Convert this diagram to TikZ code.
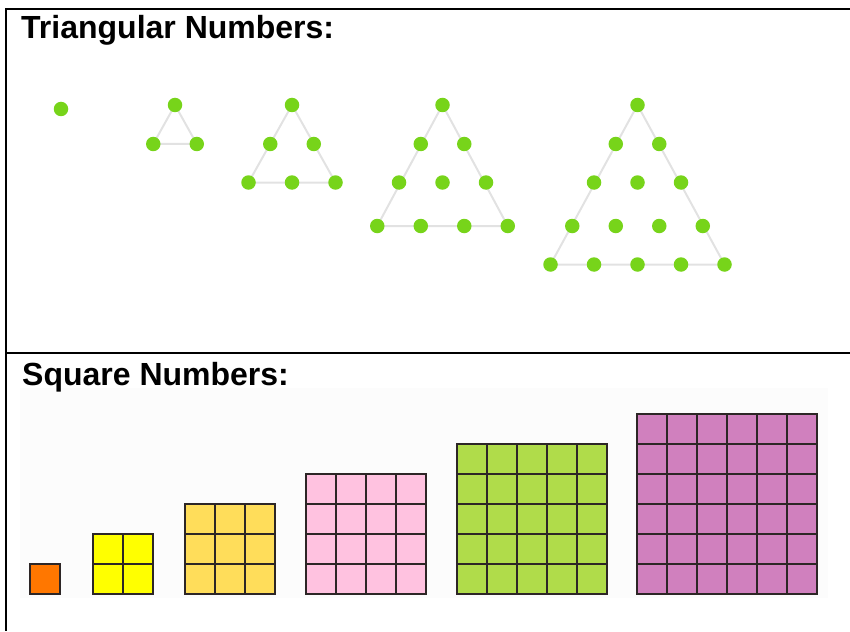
\documentclass[tikz,border=0pt]{standalone}
\usepackage{fontspec}
\setmainfont{Liberation Sans}
\usepackage{tikz}
\usetikzlibrary{backgrounds}
\definecolor{dotgreen}{RGB}{119,212,26}
\definecolor{edgegray}{RGB}{226,226,226}
\definecolor{panelgray}{RGB}{252,252,252}
\definecolor{sqorange}{RGB}{255,119,0}
\definecolor{sqyellow}{RGB}{255,255,0}
\definecolor{sqgold}{RGB}{255,221,90}
\definecolor{sqpink}{RGB}{255,194,224}
\definecolor{sqgreen}{RGB}{176,220,74}
\definecolor{sqorchid}{RGB}{208,128,190}
\definecolor{gridline}{RGB}{45,38,38}
\newcommand{\sqblock}[3]{%
  \fill[#3] (#1,593.5) rectangle ++({#2*30},{-#2*30});
  \foreach \k in {0,...,#2} {
    \draw[sqlines] ({#1+\k*30},593.5) -- ++(0,{-#2*30});
    \draw[sqlines] (#1,{593.5-\k*30}) -- ++({#2*30},0);
  }
}
\tikzset{
  heading/.style={anchor=base west,inner sep=0pt,font=\fontsize{32}{38}\selectfont\bfseries},
  tdot/.style={circle,fill=dotgreen,minimum size=14.5pt,inner sep=0pt},
  tedge/.style={draw=edgegray,line width=2pt},
  frame/.style={draw=black,line width=2pt},
  sqlines/.style={draw=gridline,line width=2pt,line cap=rect}
}

\begin{document}
\begin{tikzpicture}[x=1pt,y=-1pt]
\useasboundingbox (0,0) rectangle (850,631);
\fill[panelgray] (20,388) rectangle (828,598);
\draw[frame] (850,9) -- (6,9) -- (6,631);
\draw[frame] (6,353) -- (850,353);
\node[heading] (trihead) at (21,39) {Triangular Numbers:};
\node[heading] (sqhead) at (22,385.5) {Square Numbers:};

\node[tdot] (t1) at (61,109) {};
\foreach \n/\cx in {2/175,3/292,4/442.5,5/637.5} {
  \foreach \i in {1,...,\n} {
    \pgfmathsetmacro{\ry}{{105,144,182.5,226,264.5}[\i-1]}
    \foreach \j in {1,...,\i}
      \node[tdot] (t\n-\i-\j) at ({\cx+(\j-(\i+1)/2)*43.5},\ry) {};
  }
}
\begin{pgfonlayer}{background}
\foreach \n in {2,...,5}
  \draw[tedge] (t\n-1-1.center) -- (t\n-\n-1.center) -- (t\n-\n-\n.center) -- cycle;
\end{pgfonlayer}

\sqblock{30}{1}{sqorange}
\sqblock{93}{2}{sqyellow}
\sqblock{185}{3}{sqgold}
\sqblock{306}{4}{sqpink}
\sqblock{456.5}{5}{sqgreen}
\sqblock{637}{6}{sqorchid}
\end{tikzpicture}
\end{document}
